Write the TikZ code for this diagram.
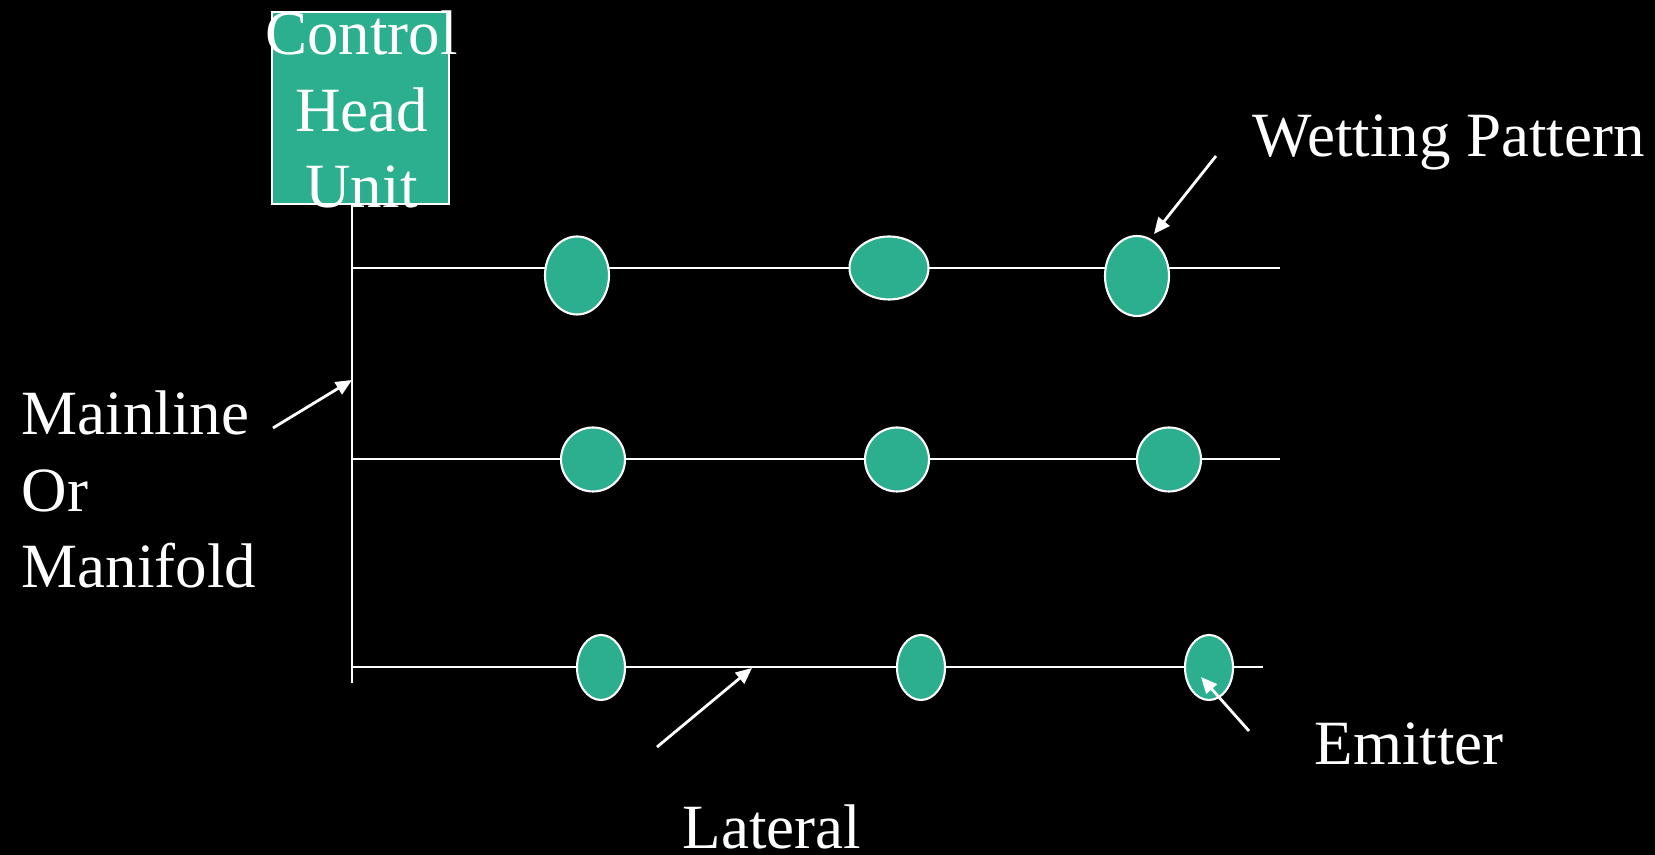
\documentclass[tikz,border=0pt]{standalone}
\usepackage{fontspec}
\setmainfont{Liberation Serif}
\usepackage{tikz}
\usetikzlibrary{arrows.meta, shapes.geometric}
\definecolor{drip}{HTML}{2BAF8E}

\begin{document}
\begin{tikzpicture}[x=0.1mm, y=-0.1mm,
      lbl/.style={text=white, inner sep=0pt,
                  font=\fontsize{17.93}{21.8}\selectfont},
      pipe/.style={draw=white, line width=0.6pt},
      wet/.style={ellipse, draw=white, fill=drip, line width=0.6pt,
                  inner sep=0pt},
      a/.style={-{Triangle[length=4.6pt, width=4pt]}, draw=white,
                line width=0.8pt}]
    \fill[black] (0,0) rectangle (1655,855);
    \useasboundingbox (0,0) rectangle (1655,855);
    % mainline and laterals
    \coordinate (mtop) at (352,204); \coordinate (mbot) at (352,683);
    \coordinate (m1) at (352,268); \coordinate (l1) at (1280,268);
    \coordinate (m2) at (352,459); \coordinate (l2) at (1280,459);
    \coordinate (m3) at (352,667); \coordinate (l3) at (1263,667);
    \draw[pipe] (mtop) -- (mbot);
    \draw[pipe] (m1) -- (l1); \draw[pipe] (m2) -- (l2); \draw[pipe] (m3) -- (l3);
    \node[draw=white, fill=drip, line width=0.6pt, inner sep=0pt,
          minimum width=17.7mm, minimum height=19.2mm] (head) at (360.5,108) {};
    % base = last line
    \node[lbl, align=center, anchor=base] (headtxt) at (361.5,208)
      {Control\\Head\\Unit};
    % wetting patterns
    \node[wet, minimum width=6.4mm, minimum height=7.8mm] (e11) at (577,275.5) {};
    \node[wet, minimum width=7.9mm, minimum height=6.3mm] (e12) at (889,268) {};
    \node[wet, minimum width=6.4mm, minimum height=8mm] (e13) at (1137,276) {};
    \node[wet, minimum width=6.4mm, minimum height=6.4mm] (e21) at (593,459.5) {};
    \node[wet, minimum width=6.4mm, minimum height=6.4mm] (e22) at (897,459.5) {};
    \node[wet, minimum width=6.4mm, minimum height=6.4mm] (e23) at (1169,459.5) {};
    \node[wet, minimum width=4.8mm, minimum height=6.5mm] (e31) at (601,667.5) {};
    \node[wet, minimum width=4.8mm, minimum height=6.5mm] (e32) at (921,667.5) {};
    \node[wet, minimum width=4.8mm, minimum height=6.5mm] (e33) at (1209,667.5) {};
    % labels
    \node[lbl, anchor=base west] (wp) at (1252,156.7) {Wetting Pattern};
    \node[lbl, align=left, anchor=base west] (ml) at (21,588) {Mainline\\Or\\Manifold};
    \node[lbl, anchor=base west] (em) at (1314,765) {Emitter};
    \node[lbl, anchor=base west] (lat) at (682,849) {Lateral};
    % pointers
    \coordinate (wpfrom) at (1216,156); \coordinate (wpto) at (1154,234);
    \coordinate (mlfrom) at (273,428); \coordinate (mlto) at (352,380);
    \coordinate (latfrom) at (657,747); \coordinate (latto) at (752,668);
    \coordinate (emfrom) at (1249,731); \coordinate (emto) at (1201,677);
    \draw[a] (wpfrom) -- (wpto);
    \draw[a] (mlfrom) -- (mlto);
    \draw[a] (latfrom) -- (latto);
    \draw[a] (emfrom) -- (emto);
\end{tikzpicture}
\end{document}
